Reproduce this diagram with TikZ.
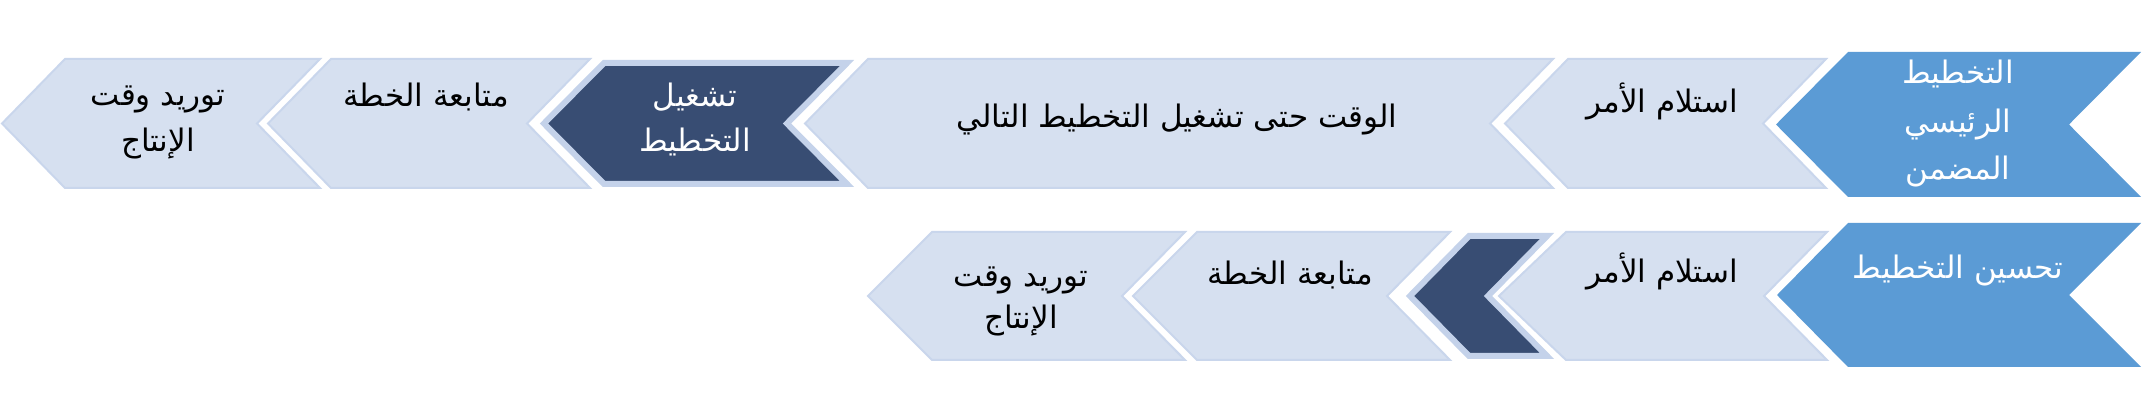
\documentclass[tikz,border=0pt]{standalone}
\usepackage{fontspec}
\newfontfamily\arabicfont[Script=Arabic]{DejaVu Sans}
\TeXXeTstate=1
\definecolor{lightfill}{HTML}{D6E0F0}
\definecolor{lightedge}{HTML}{C9D6EC}
\definecolor{darkfill}{HTML}{384D73}
\definecolor{darkedge}{HTML}{C4D2EA}
\definecolor{bluefill}{HTML}{5B9BD5}
\tikzset{
  lightchev/.style={fill=lightfill, draw=lightedge, line width=2pt},
  darkchev/.style={fill=darkfill, draw=darkedge, line width=6pt},
  bluechev/.style={fill=bluefill, draw=none},
  lbl/.style={font=\arabicfont\fontsize{31}{48}\selectfont, anchor=base, inner sep=0pt},
  blk/.style={lbl, text=black},
  wht/.style={lbl, text=white},
}
% #1 style, #2 point x, #3 top-left x, #4 top-right x, #5 notch x, #6 top y, #7 bottom y
\newcommand\chevshape[7]{%
  \path[#1] (#2,{(#6+#7)/2}) -- (#3,#6) -- (#4,#6) -- (#5,{(#6+#7)/2}) -- (#4,#7) -- (#3,#7) -- cycle;}
\begin{document}
\begin{tikzpicture}[x=1pt,y=-1pt]
\fill[white] (0,0) rectangle (2155,419);
\useasboundingbox (0,0) rectangle (2155,419);
% top row
\chevshape{lightchev}{2}{65}{320}{257}{59}{188}
\chevshape{lightchev}{268}{331}{590}{527}{59}{188}
\chevshape{darkchev}{544}{604}{847}{787}{63}{184}
\chevshape{lightchev}{805}{868}{1553}{1490}{59}{188}
\chevshape{lightchev}{1505}{1568}{1826}{1763}{59}{188}
\chevshape{bluechev}{1776}{1848}{2141}{2069}{52}{197}
% bottom row
\chevshape{lightchev}{868}{932}{1185}{1122}{232}{360}
\chevshape{lightchev}{1133}{1197}{1450}{1387}{232}{360}
\chevshape{darkchev}{1410}{1469}{1547}{1488}{236}{356}
\chevshape{lightchev}{1499}{1566}{1827}{1764}{232}{360}
\chevshape{bluechev}{1777}{1848}{2141}{2069}{223}{367}
% top labels
\node[blk] (t1a) at (158,106) {\beginR توريد وقت\endR};
\node[blk] (t1b) at (158,152) {\beginR الإنتاج\endR};
\node[blk] (t2) at (426,107) {\beginR متابعة الخطة\endR};
\node[wht] (t3a) at (695,107) {\beginR تشغيل\endR};
\node[wht] (t3b) at (695,152) {\beginR التخطيط\endR};
\node[blk] (t4) at (1177,128) {\beginR الوقت حتى تشغيل التخطيط التالي\endR};
\node[blk] (t5) at (1662,113) {\beginR استلام الأمر\endR};
\node[wht] (t6a) at (1958,84) {\beginR التخطيط\endR};
\node[wht] (t6b) at (1958,133) {\beginR الرئيسي\endR};
\node[wht] (t6c) at (1958,180) {\beginR المضمن\endR};
% bottom labels
\node[blk] (b1a) at (1021,287) {\beginR توريد وقت\endR};
\node[blk] (b1b) at (1021,329) {\beginR الإنتاج\endR};
\node[blk] (b2) at (1290,285) {\beginR متابعة الخطة\endR};
\node[blk] (b4) at (1662,283) {\beginR استلام الأمر\endR};
\node[wht] (b5) at (1958,279) {\beginR تحسين التخطيط\endR};
\end{tikzpicture}
\end{document}
